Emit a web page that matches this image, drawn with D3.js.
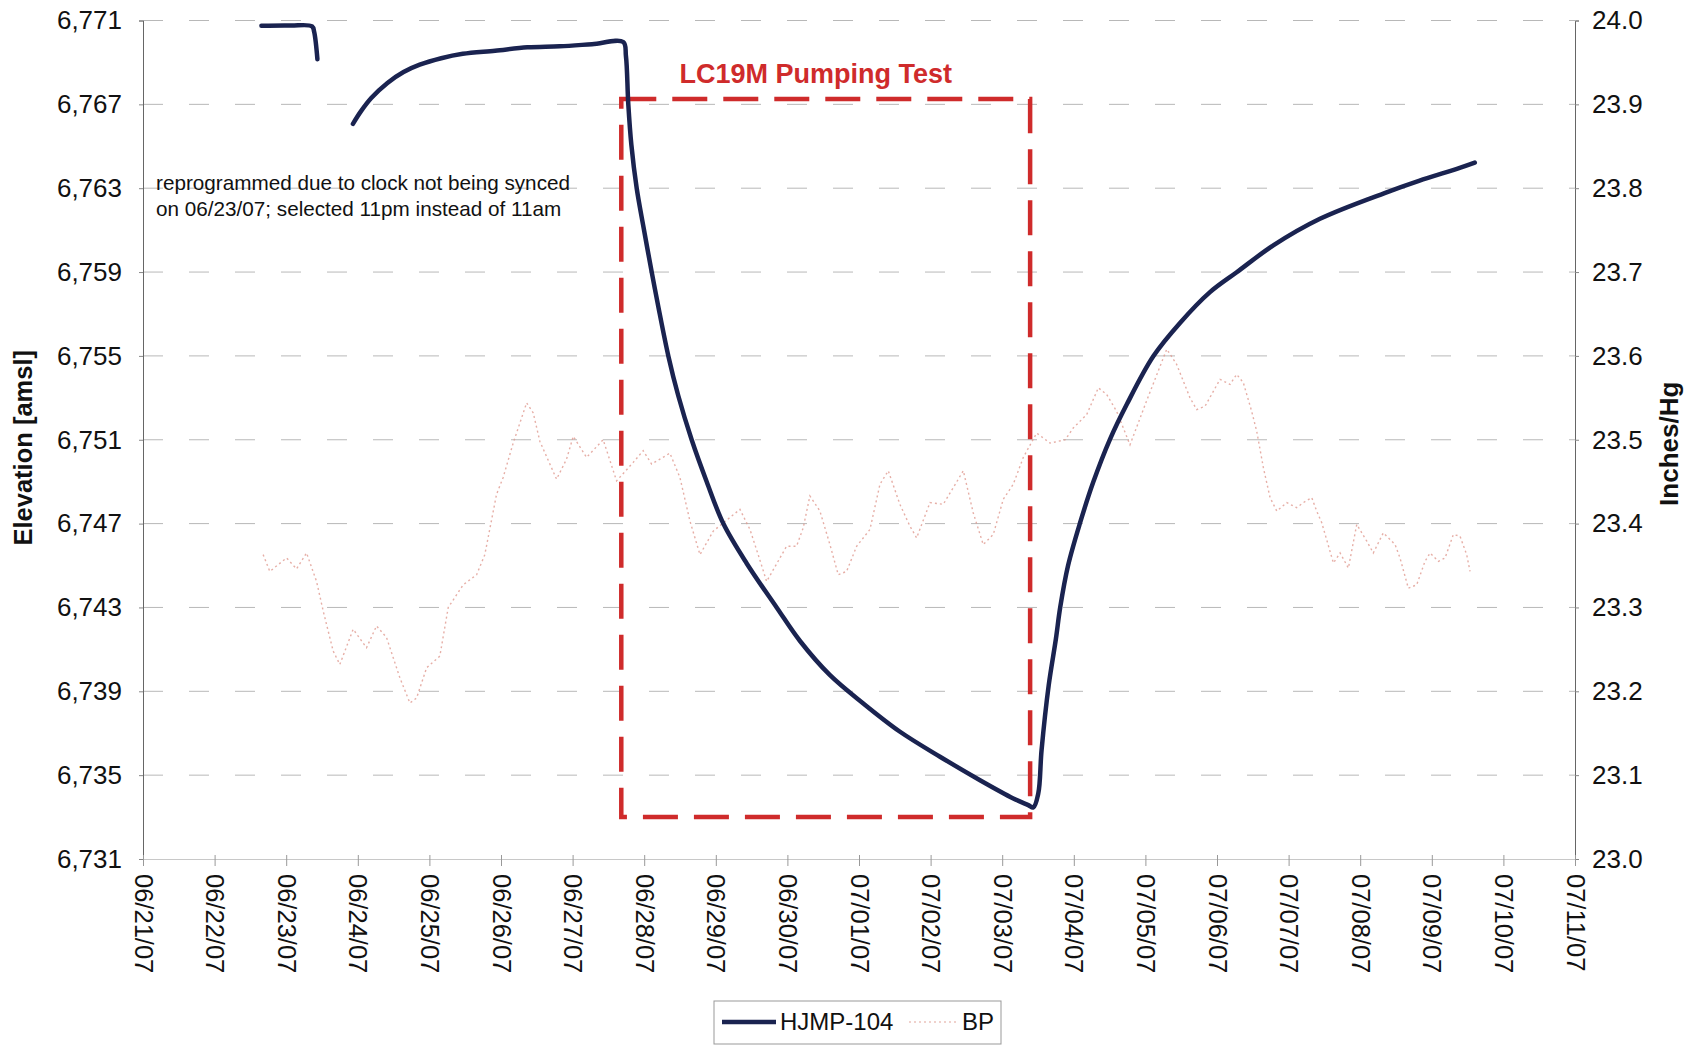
<!DOCTYPE html>
<html><head><meta charset="utf-8">
<script src="https://cdn.jsdelivr.net/npm/d3@7"></script>
<style>
body{margin:0;background:#fff;}
text{font-family:"Liberation Sans",Arial,Helvetica,sans-serif;}
</style>
</head><body>
<svg id="chart" width="1688" height="1050"></svg>
<script>
// ---------- DATA ----------
const startLabel = "06/21/07";
const xTickLabels = ["06/21/07","06/22/07","06/23/07","06/24/07","06/25/07","06/26/07","06/27/07",
  "06/28/07","06/29/07","06/30/07","07/01/07","07/02/07","07/03/07","07/04/07","07/05/07",
  "07/06/07","07/07/07","07/08/07","07/09/07","07/10/07","07/11/07"];
const elevTicks = [6731,6735,6739,6743,6747,6751,6755,6759,6763,6767,6771];
const bpTicks = [23.0,23.1,23.2,23.3,23.4,23.5,23.6,23.7,23.8,23.9,24.0];

// HJMP-104 water-level elevation (days since 06/21/07 00:00)
const hjmpSeg1Days = [1.654,2.060,2.361,2.391,2.436];
const hjmpSeg1Elev = [6770.75,6770.76,6770.72,6770.45,6769.15];
const hjmpSeg2Days = [2.932,3.038,3.188,3.414,3.639,3.865,4.165,4.466,4.917,5.368,5.820,6.271,6.707,
  6.745,6.778,6.821,6.895,6.987,7.105,7.197,7.337,7.476,7.663,7.873,8.105,8.432,8.850,9.176,9.595,
  10.060,10.573,11.131,11.690,12.155,12.364,12.434,12.504,12.550,12.650,12.750,12.810,12.920,13.087,
  13.272,13.505,13.739,14.110,14.483,14.902,15.275,15.786,16.438,17.350,17.820,18.390,18.600];
const hjmpSeg2Elev = [6766.07,6766.64,6767.30,6768.02,6768.54,6768.89,6769.20,6769.41,6769.56,6769.72,
  6769.77,6769.87,6769.97,6769.30,6767.00,6765.06,6763.00,6761.20,6759.00,6757.35,6755.00,6753.10,
  6751.00,6749.00,6747.00,6745.10,6743.00,6741.40,6739.77,6738.42,6737.07,6735.88,6734.76,6733.89,
  6733.57,6733.46,6734.13,6736.20,6739.30,6741.50,6743.00,6745.00,6747.03,6748.98,6751.02,6752.68,
  6754.98,6756.57,6758.04,6758.99,6760.27,6761.54,6762.78,6763.35,6763.97,6764.22];

// Barometric pressure BP (inches Hg), days since 06/21/07 00:00
const bpDays = [1.678,1.771,2.005,2.144,2.284,2.424,2.516,2.656,2.749,2.935,3.122,3.262,3.402,3.588,
  3.728,3.821,3.961,4.146,4.263,4.472,4.659,4.774,4.938,5.030,5.170,5.358,5.450,5.543,5.776,5.916,
  6.009,6.195,6.427,6.614,6.847,6.986,7.104,7.359,7.499,7.639,7.779,7.964,8.337,8.477,8.592,8.710,
  8.989,9.128,9.221,9.314,9.454,9.594,9.710,9.827,9.967,10.153,10.293,10.409,10.571,10.711,10.805,
  10.991,11.177,11.317,11.457,11.595,11.735,11.875,12.015,12.155,12.295,12.481,12.668,12.881,12.992,
  13.180,13.343,13.459,13.598,13.785,14.015,14.298,14.436,14.529,14.623,14.717,14.833,15.042,15.182,
  15.275,15.368,15.484,15.555,15.647,15.741,15.835,15.974,16.113,16.206,16.323,16.392,16.463,16.626,
  16.719,16.835,16.952,17.092,17.183,17.323,17.487,17.556,17.672,17.789,17.905,17.976,18.092,18.185,
  18.301,18.394,18.487,18.534];
const bpValues = [23.363,23.343,23.359,23.346,23.365,23.331,23.296,23.248,23.232,23.274,23.252,23.278,
  23.264,23.216,23.186,23.192,23.228,23.242,23.300,23.327,23.339,23.363,23.435,23.455,23.496,23.544,
  23.532,23.498,23.453,23.477,23.504,23.479,23.500,23.451,23.473,23.487,23.471,23.484,23.455,23.403,
  23.363,23.391,23.417,23.393,23.363,23.331,23.373,23.373,23.395,23.433,23.415,23.375,23.339,23.343,
  23.373,23.393,23.447,23.463,23.423,23.397,23.383,23.425,23.423,23.443,23.463,23.413,23.375,23.387,
  23.429,23.447,23.479,23.508,23.496,23.500,23.514,23.530,23.562,23.554,23.534,23.494,23.546,23.608,
  23.590,23.570,23.550,23.536,23.540,23.572,23.566,23.578,23.568,23.534,23.510,23.467,23.431,23.415,
  23.425,23.419,23.425,23.431,23.415,23.401,23.353,23.365,23.347,23.399,23.379,23.365,23.389,23.375,
  23.359,23.323,23.327,23.355,23.365,23.355,23.359,23.387,23.385,23.363,23.343];

// Pumping-test period box (days since start, elevation)
const testBoxDays = [6.68, 12.39];
const testBoxElev = [6767.25, 6733.0];

const seriesNames = ["HJMP-104","BP"];
const testLabel = "LC19M Pumping Test";
const noteLines = ["reprogrammed due to clock not being synced","on 06/23/07; selected 11pm instead of 11am"];
const yLeftTitle = "Elevation [amsl]";
const yRightTitle = "Inches/Hg";

// ---------- LAYOUT ----------
const W = 1688, H = 1050;
const m = {left:143, right:113, top:20.5, bottom:191};
const plotR = W - m.right, plotB = H - m.bottom;
const colNavy = "#1a2350", colRed = "#cf2b2b", colBP = "#e09a90";
const FONT = "'Liberation Sans',Arial,sans-serif";

const svg = d3.select("#chart");
const parse = d3.timeParse("%m/%d/%y");
const t0 = parse(startLabel);
const dayToDate = d => new Date(t0.getTime() + d*86400000);
const tickDates = xTickLabels.map(parse);

const x = d3.scaleTime().domain([tickDates[0], tickDates[tickDates.length-1]]).range([m.left, plotR]);
const yL = d3.scaleLinear().domain([6731,6771]).range([plotB, m.top]);
const yR = d3.scaleLinear().domain([23.0,24.0]).range([plotB, m.top]);

// gridlines
svg.append("g").selectAll("line").data(elevTicks.slice(1)).join("line")
  .attr("x1", m.left).attr("x2", plotR)
  .attr("y1", d=>yL(d)).attr("y2", d=>yL(d))
  .attr("stroke","#b8b8b8").attr("stroke-width",1).attr("stroke-dasharray","20,26");

// BP series
const bpData = bpDays.map((d,i)=>({t:dayToDate(d), v:bpValues[i]}));
svg.append("path").datum(bpData)
  .attr("fill","none").attr("stroke",colBP).attr("stroke-width",1.4)
  .attr("stroke-dasharray","2,3").attr("opacity",0.8)
  .attr("d", d3.line().x(d=>x(d.t)).y(d=>yR(d.v)));

// pumping test box
const bx0 = x(dayToDate(testBoxDays[0])), bx1 = x(dayToDate(testBoxDays[1]));
const by0 = yL(testBoxElev[0]), by1 = yL(testBoxElev[1]);
svg.append("path")
  .attr("d", `M${bx0},${by0}H${bx1}V${by1}H${bx0}Z`)
  .attr("fill","none").attr("stroke",colRed).attr("stroke-width",4.5)
  .attr("stroke-dasharray","35,16");

// HJMP-104 series
const lineL = d3.line().x(d=>x(d.t)).y(d=>yL(d.v)).curve(d3.curveCatmullRom.alpha(0.5));
const seg1 = hjmpSeg1Days.map((d,i)=>({t:dayToDate(d), v:hjmpSeg1Elev[i]}));
const seg2 = hjmpSeg2Days.map((d,i)=>({t:dayToDate(d), v:hjmpSeg2Elev[i]}));
[seg1, seg2].forEach(s=>{
  svg.append("path").datum(s).attr("fill","none").attr("stroke",colNavy)
    .attr("stroke-width",4.5).attr("stroke-linejoin","round").attr("stroke-linecap","round")
    .attr("d", lineL);
});

// axes
const axL = svg.append("g").attr("transform",`translate(${m.left},0)`)
  .call(d3.axisLeft(yL).tickValues(elevTicks).tickSize(4).tickFormat(d3.format(",")));
axL.select(".domain").attr("stroke","#666");
axL.selectAll(".tick line").attr("stroke","#888");
axL.selectAll("text").attr("font-size",26).attr("fill","#111").attr("x",-21)
  .style("font-family",FONT);

const axR = svg.append("g").attr("transform",`translate(${plotR},0)`)
  .call(d3.axisRight(yR).tickValues(bpTicks).tickSize(4).tickFormat(d3.format(".1f")));
axR.select(".domain").attr("stroke","#666");
axR.selectAll(".tick line").attr("stroke","#888");
axR.selectAll("text").attr("font-size",26).attr("fill","#111").attr("x",17)
  .style("font-family",FONT);

const axB = svg.append("g").attr("transform",`translate(0,${plotB})`)
  .call(d3.axisBottom(x).tickValues(tickDates).tickSize(7).tickFormat((d,i)=>xTickLabels[i]));
axB.select(".domain").attr("stroke","#c8c8c8");
axB.selectAll(".tick line").attr("stroke","#999").attr("y1",-4);
axB.selectAll("text").attr("font-size",25.5).attr("fill","#111")
  .attr("transform","rotate(90)").attr("text-anchor","start")
  .attr("x",15).attr("y",0).attr("dy","0.35em")
  .style("font-family",FONT);

// axis titles
svg.append("text").attr("transform",`translate(32,${(m.top+plotB)/2 + 8}) rotate(-90)`)
  .attr("text-anchor","middle").attr("font-size",25.5).attr("font-weight","bold").attr("fill","#111")
  .text(yLeftTitle);
svg.append("text").attr("transform",`translate(1678,${(m.top+plotB)/2 + 4}) rotate(-90)`)
  .attr("text-anchor","middle").attr("font-size",26).attr("font-weight","bold").attr("fill","#111")
  .text(yRightTitle);

// pumping test label
svg.append("text").attr("x",(bx0+bx1)/2 - 10).attr("y",by0-16)
  .attr("text-anchor","middle").attr("font-size",27).attr("font-weight","bold").attr("fill",colRed)
  .text(testLabel);

// note
svg.append("g").selectAll("text").data(noteLines).join("text")
  .attr("x",156).attr("y",(d,i)=>190+i*26).attr("font-size",20.7).attr("fill","#111")
  .text(d=>d);

// legend
const lg = svg.append("g").attr("transform","translate(714,1001)");
lg.append("rect").attr("width",287).attr("height",43).attr("fill","#fff")
  .attr("stroke","#999").attr("stroke-width",1);
lg.append("line").attr("x1",8).attr("x2",62).attr("y1",21).attr("y2",21)
  .attr("stroke",colNavy).attr("stroke-width",4.5);
lg.append("text").attr("x",66).attr("y",21).attr("dy","0.35em").attr("font-size",24).attr("fill","#111")
  .text(seriesNames[0]);
lg.append("line").attr("x1",195).attr("x2",243).attr("y1",21).attr("y2",21)
  .attr("stroke",colBP).attr("stroke-width",1.4).attr("stroke-dasharray","2,3").attr("opacity",0.6);
lg.append("text").attr("x",248).attr("y",21).attr("dy","0.35em").attr("font-size",24).attr("fill","#111")
  .text(seriesNames[1]);
</script>
</body></html>
